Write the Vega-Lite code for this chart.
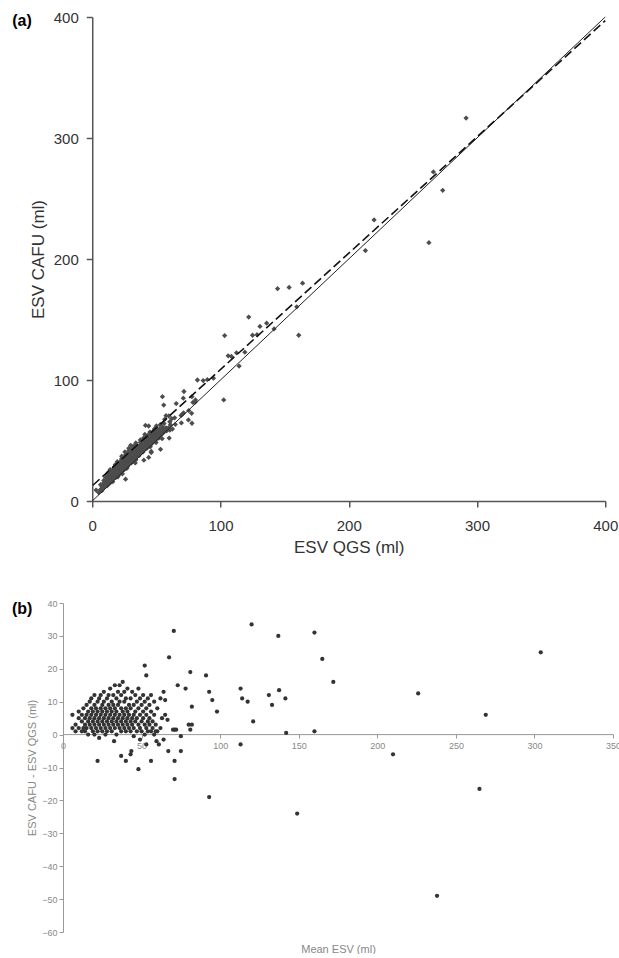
{
"$schema": "https://vega.github.io/schema/vega-lite/v6.json",
"background": "white",
"padding": {"left": 12, "top": 10, "right": 0, "bottom": 0},
"spacing": 44,
"center": true,
"config": {"view": {"stroke": null}, "font": "Liberation Sans"},
"datasets": {
"pts": [
{"q":103.25,"c":136.75,"m":120,"d":33.5},{"q":122,"c":152,"m":137,"d":30},{"q":144.5,"c":175.5,"m":160,"d":31},{"q":153.5,"c":176.5,"m":165,"d":23},{"q":164,"c":180,"m":172,"d":16},
{"q":82,"c":100,"m":91,"d":18},{"q":86.5,"c":99.5,"m":93,"d":13},{"q":89.75,"c":100.25,"m":95,"d":10.5},{"q":94.5,"c":101.5,"m":98,"d":7},{"q":106,"c":120,"m":113,"d":14},
{"q":108.5,"c":119.5,"m":114,"d":11},{"q":112.5,"c":122.5,"m":117.5,"d":10},{"q":119,"c":123,"m":121,"d":4},{"q":125,"c":137,"m":131,"d":12},{"q":128.5,"c":137.5,"m":133,"d":9},
{"q":130.75,"c":144.25,"m":137.5,"d":13.5},{"q":136,"c":147,"m":141.5,"d":11},{"q":141.75,"c":142.25,"m":142,"d":0.5},{"q":159.5,"c":160.5,"m":160,"d":1},{"q":219.75,"c":232.25,"m":226,"d":12.5},
{"q":266,"c":272,"m":269,"d":6},{"q":291.5,"c":316.5,"m":304,"d":25},{"q":26,"c":18,"m":22,"d":-8},{"q":40.25,"c":33.75,"m":37,"d":-6.5},{"q":44,"c":36,"m":40,"d":-8},
{"q":46,"c":40,"m":43,"d":-6},{"q":46,"c":41,"m":43.5,"d":-5},{"q":53.25,"c":42.75,"m":48,"d":-10.5},{"q":60,"c":52,"m":56,"d":-8},{"q":69.5,"c":64.5,"m":67,"d":-5},
{"q":75,"c":67,"m":71,"d":-8},{"q":77.75,"c":64.25,"m":71,"d":-13.5},{"q":77.5,"c":72.5,"m":75,"d":-5},{"q":102.5,"c":83.5,"m":93,"d":-19},{"q":161,"c":137,"m":149,"d":-24},
{"q":213,"c":207,"m":210,"d":-6},{"q":262.5,"c":213.5,"m":238,"d":-49},{"q":273.25,"c":256.75,"m":265,"d":-16.5},{"q":54.75,"c":86.25,"m":70.5,"d":31.5},{"q":55.75,"c":79.25,"m":67.5,"d":23.5},
{"q":41.5,"c":62.5,"m":52,"d":21},{"q":44,"c":62,"m":53,"d":18},{"q":65.5,"c":80.5,"m":73,"d":15},{"q":71.5,"c":90.5,"m":81,"d":19},{"q":71,"c":85,"m":78,"d":14},
{"q":77.75,"c":86.25,"m":82,"d":8.5},{"q":59.75,"c":70.25,"m":65,"d":10.5},{"q":57.5,"c":70.5,"m":64,"d":13},{"q":62,"c":68,"m":65,"d":6},{"q":64.25,"c":68.75,"m":66.5,"d":4.5},
{"q":69.25,"c":70.75,"m":70,"d":1.5},{"q":70.25,"c":71.75,"m":71,"d":1.5},{"q":71.25,"c":72.75,"m":72,"d":1.5},{"q":78.5,"c":81.5,"m":80,"d":3},{"q":80.5,"c":83.5,"m":82,"d":3},
{"q":80.25,"c":81.75,"m":81,"d":1.5},{"q":75.25,"c":74.75,"m":75,"d":-0.5},{"q":114.5,"c":111.5,"m":113,"d":-3},{"q":33.5,"c":31.5,"m":32.5,"d":-2},{"q":45.25,"c":44.75,"m":45,"d":-0.5},
{"q":49.75,"c":48.25,"m":49,"d":-1.5},{"q":54.5,"c":51.5,"m":53,"d":-3},{"q":60.5,"c":58.5,"m":59.5,"d":-2},{"q":62.5,"c":59.5,"m":61,"d":-3},{"q":64.75,"c":63.25,"m":64,"d":-1.5},
{"q":5,"c":7,"m":6,"d":2},{"q":3,"c":9,"m":6,"d":6},{"q":6.5,"c":9.5,"m":8,"d":3},{"q":7.5,"c":8.5,"m":8,"d":1},
{"q":9,"c":11,"m":10,"d":2},{"q":7.5,"c":12.5,"m":10,"d":5},{"q":6.5,"c":13.5,"m":10,"d":7},
{"q":11.5,"c":12.5,"m":12,"d":1},{"q":10,"c":14,"m":12,"d":4},{"q":9,"c":15,"m":12,"d":6},
{"q":12,"c":14,"m":13,"d":2},{"q":9,"c":17,"m":13,"d":8},
{"q":12.5,"c":15.5,"m":14,"d":3},{"q":11.5,"c":16.5,"m":14,"d":5},{"q":13.5,"c":14.5,"m":14,"d":1},
{"q":12,"c":18,"m":15,"d":6},{"q":10.5,"c":19.5,"m":15,"d":9},{"q":14,"c":16,"m":15,"d":2},
{"q":14,"c":18,"m":16,"d":4},{"q":12.5,"c":19.5,"m":16,"d":7},{"q":16,"c":16,"m":16,"d":0},
{"q":15.5,"c":18.5,"m":17,"d":3},{"q":12,"c":22,"m":17,"d":10},{"q":14.5,"c":19.5,"m":17,"d":5},
{"q":17,"c":19,"m":18,"d":2},{"q":15,"c":21,"m":18,"d":6},{"q":14,"c":22,"m":18,"d":8},{"q":12.5,"c":23.5,"m":18,"d":11},
{"q":17,"c":21,"m":19,"d":4},{"q":18.5,"c":19.5,"m":19,"d":1},{"q":15.5,"c":22.5,"m":19,"d":7},
{"q":18.5,"c":21.5,"m":20,"d":3},{"q":17.5,"c":22.5,"m":20,"d":5},{"q":15.5,"c":24.5,"m":20,"d":9},{"q":14,"c":26,"m":20,"d":12},{"q":20,"c":20,"m":20,"d":0},
{"q":18,"c":24,"m":21,"d":6},{"q":20,"c":22,"m":21,"d":2},{"q":17,"c":25,"m":21,"d":8},
{"q":20,"c":24,"m":22,"d":4},{"q":17,"c":27,"m":22,"d":10},{"q":21.5,"c":22.5,"m":22,"d":1},{"q":18.5,"c":25.5,"m":22,"d":7},
{"q":21.5,"c":24.5,"m":23,"d":3},{"q":20.5,"c":25.5,"m":23,"d":5},{"q":17.5,"c":28.5,"m":23,"d":11},{"q":23.5,"c":22.5,"m":23,"d":-1},
{"q":21,"c":27,"m":24,"d":6},{"q":20,"c":28,"m":24,"d":8},{"q":23,"c":25,"m":24,"d":2},{"q":18,"c":30,"m":24,"d":12},
{"q":23,"c":27,"m":25,"d":4},{"q":20.5,"c":29.5,"m":25,"d":9},{"q":24.5,"c":25.5,"m":25,"d":1},{"q":21.5,"c":28.5,"m":25,"d":7},
{"q":24.5,"c":27.5,"m":26,"d":3},{"q":23.5,"c":28.5,"m":26,"d":5},{"q":21,"c":31,"m":26,"d":10},{"q":19.5,"c":32.5,"m":26,"d":13},
{"q":24,"c":30,"m":27,"d":6},{"q":26,"c":28,"m":27,"d":2},{"q":23,"c":31,"m":27,"d":8},{"q":27,"c":27,"m":27,"d":0},
{"q":26,"c":30,"m":28,"d":4},{"q":24.5,"c":31.5,"m":28,"d":7},{"q":22.5,"c":33.5,"m":28,"d":11},{"q":27.5,"c":28.5,"m":28,"d":1},
{"q":26.5,"c":31.5,"m":29,"d":5},{"q":24.5,"c":33.5,"m":29,"d":9},{"q":27.5,"c":30.5,"m":29,"d":3},{"q":23,"c":35,"m":29,"d":12},
{"q":27,"c":33,"m":30,"d":6},{"q":29,"c":31,"m":30,"d":2},{"q":26,"c":34,"m":30,"d":8},{"q":23,"c":37,"m":30,"d":14},
{"q":29,"c":33,"m":31,"d":4},{"q":26,"c":36,"m":31,"d":10},{"q":30.5,"c":31.5,"m":31,"d":1},{"q":27.5,"c":34.5,"m":31,"d":7},
{"q":30.5,"c":33.5,"m":32,"d":3},{"q":29.5,"c":34.5,"m":32,"d":5},{"q":27.5,"c":36.5,"m":32,"d":9},{"q":26,"c":38,"m":32,"d":12},
{"q":30,"c":36,"m":33,"d":6},{"q":29,"c":37,"m":33,"d":8},{"q":32,"c":34,"m":33,"d":2},{"q":25.5,"c":40.5,"m":33,"d":15},
{"q":32,"c":36,"m":34,"d":4},{"q":28.5,"c":39.5,"m":34,"d":11},{"q":30.5,"c":37.5,"m":34,"d":7},{"q":34,"c":34,"m":34,"d":0},
{"q":32.5,"c":37.5,"m":35,"d":5},{"q":30.5,"c":39.5,"m":35,"d":9},{"q":33.5,"c":36.5,"m":35,"d":3},{"q":28.5,"c":41.5,"m":35,"d":13},
{"q":33,"c":39,"m":36,"d":6},{"q":35,"c":37,"m":36,"d":2},{"q":31,"c":41,"m":36,"d":10},{"q":28.5,"c":43.5,"m":36,"d":15},
{"q":35,"c":39,"m":37,"d":4},{"q":33,"c":41,"m":37,"d":8},{"q":31,"c":43,"m":37,"d":12},{"q":36.5,"c":37.5,"m":37,"d":1},
{"q":35.5,"c":40.5,"m":38,"d":5},{"q":34.5,"c":41.5,"m":38,"d":7},{"q":30,"c":46,"m":38,"d":16},{"q":36.5,"c":39.5,"m":38,"d":3},
{"q":36,"c":42,"m":39,"d":6},{"q":34,"c":44,"m":39,"d":10},{"q":38,"c":40,"m":39,"d":2},{"q":32.5,"c":45.5,"m":39,"d":13},
{"q":38,"c":42,"m":40,"d":4},{"q":36,"c":44,"m":40,"d":8},{"q":39.5,"c":40.5,"m":40,"d":1},{"q":34.5,"c":45.5,"m":40,"d":11},
{"q":38.5,"c":43.5,"m":41,"d":5},{"q":37.5,"c":44.5,"m":41,"d":7},{"q":34,"c":48,"m":41,"d":14},{"q":39.5,"c":42.5,"m":41,"d":3},
{"q":39,"c":45,"m":42,"d":6},{"q":37.5,"c":46.5,"m":42,"d":9},{"q":41,"c":43,"m":42,"d":2},
{"q":41,"c":45,"m":43,"d":4},{"q":37.5,"c":48.5,"m":43,"d":11},{"q":42.5,"c":43.5,"m":43,"d":1},{"q":39,"c":47,"m":43,"d":8},
{"q":41.5,"c":46.5,"m":44,"d":5},{"q":42.5,"c":45.5,"m":44,"d":3},{"q":37.5,"c":50.5,"m":44,"d":13},
{"q":42,"c":48,"m":45,"d":6},{"q":40.5,"c":49.5,"m":45,"d":9},{"q":44,"c":46,"m":45,"d":2},
{"q":44,"c":48,"m":46,"d":4},{"q":42.5,"c":49.5,"m":46,"d":7},{"q":40,"c":52,"m":46,"d":12},
{"q":44.5,"c":49.5,"m":47,"d":5},{"q":46.5,"c":47.5,"m":47,"d":1},{"q":42,"c":52,"m":47,"d":10},
{"q":46.5,"c":49.5,"m":48,"d":3},{"q":44,"c":52,"m":48,"d":8},{"q":41,"c":55,"m":48,"d":14},
{"q":46,"c":52,"m":49,"d":6},{"q":48,"c":50,"m":49,"d":2},{"q":43.5,"c":54.5,"m":49,"d":11},
{"q":48,"c":52,"m":50,"d":4},{"q":45.5,"c":54.5,"m":50,"d":9},{"q":49.5,"c":50.5,"m":50,"d":1},
{"q":48.5,"c":53.5,"m":51,"d":5},{"q":47.5,"c":54.5,"m":51,"d":7},{"q":45,"c":57,"m":51,"d":12},
{"q":50.5,"c":53.5,"m":52,"d":3},{"q":47,"c":57,"m":52,"d":10},{"q":52,"c":52,"m":52,"d":0},
{"q":50,"c":56,"m":53,"d":6},{"q":52,"c":54,"m":53,"d":2},{"q":49,"c":57,"m":53,"d":8},
{"q":52,"c":56,"m":54,"d":4},{"q":48.5,"c":59.5,"m":54,"d":11},{"q":53.5,"c":54.5,"m":54,"d":1},
{"q":52.5,"c":57.5,"m":55,"d":5},{"q":53.5,"c":56.5,"m":55,"d":3},{"q":50.5,"c":59.5,"m":55,"d":9},
{"q":52.5,"c":59.5,"m":56,"d":7},{"q":55.5,"c":56.5,"m":56,"d":1},{"q":50,"c":62,"m":56,"d":12},
{"q":55,"c":59,"m":57,"d":4},{"q":56,"c":58,"m":57,"d":2},
{"q":55,"c":61,"m":58,"d":6},{"q":58,"c":58,"m":58,"d":0},{"q":53,"c":63,"m":58,"d":10},
{"q":57.5,"c":60.5,"m":59,"d":3},{"q":58.5,"c":59.5,"m":59,"d":1},
{"q":56,"c":64,"m":60,"d":8},{"q":59.5,"c":60.5,"m":60,"d":1},
{"q":61,"c":63,"m":62,"d":2},{"q":56.5,"c":67.5,"m":62,"d":11},{"q":60.5,"c":65.5,"m":63,"d":5}
]
},
"vconcat": [
{
"width": 513,
"height": 484,
"title": {"text": "(a)", "anchor": "start", "frame": "group", "fontSize": 16, "fontWeight": "bold", "color": "#000", "dx": -80, "dy": 32, "offset": 0, "baseline": "alphabetic"},
"layer": [
{
"data": {"name": "pts"},
"mark": {"type": "point", "shape": "diamond", "filled": true, "size": 28, "color": "#4d4d4d", "opacity": 1},
"encoding": {
"x": {"field": "q", "type": "quantitative", "scale": {"domain": [0, 400], "nice": false},
"axis": {"title": "ESV QGS (ml)", "values": [0, 100, 200, 300, 400], "grid": false, "domainColor": "#555", "domainWidth": 1.5, "tickColor": "#555", "tickWidth": 1.5, "tickSize": 6, "labelFontSize": 15, "labelColor": "#333", "labelPadding": 11, "labelFlush": false, "labelOverlap": false, "titleFontSize": 17, "titleFontWeight": "normal", "titleColor": "#333", "titlePadding": 6}},
"y": {"field": "c", "type": "quantitative", "scale": {"domain": [0, 400], "nice": false},
"axis": {"title": "ESV CAFU (ml)", "values": [0, 100, 200, 300, 400], "grid": false, "domainColor": "#555", "domainWidth": 1.5, "tickColor": "#555", "tickWidth": 1.5, "tickSize": 6, "labelFontSize": 15, "labelColor": "#333", "labelPadding": 8, "labelFlush": false, "labelOverlap": false, "titleFontSize": 17, "titleFontWeight": "normal", "titleColor": "#333", "titlePadding": 6}}
}
},
{
"data": {"values": [{"q": 0, "c": 0}, {"q": 400, "c": 400}]},
"mark": {"type": "line", "color": "#222", "strokeWidth": 1},
"encoding": {"x": {"field": "q", "type": "quantitative"}, "y": {"field": "c", "type": "quantitative"}}
},
{
"data": {"values": [{"q": 0.5, "c": 13}, {"q": 400, "c": 397}]},
"mark": {"type": "line", "color": "#111", "strokeWidth": 1.6, "strokeDash": [9, 4]},
"encoding": {"x": {"field": "q", "type": "quantitative"}, "y": {"field": "c", "type": "quantitative"}}
}
]
},
{
"width": 584,
"height": 329,
"title": {"text": "(b)", "anchor": "start", "frame": "group", "fontSize": 16, "fontWeight": "bold", "color": "#000", "dx": -51, "dy": 31, "offset": 0, "baseline": "alphabetic"},
"layer": [
{
"data": {"values": [{"m": 0, "m2": 350, "d": 0}]},
"mark": {"type": "rule", "color": "#999", "strokeWidth": 1},
"encoding": {
"x": {"field": "m", "type": "quantitative", "scale": {"domain": [0, 371.6], "nice": false},
"axis": {"title": "Mean ESV (ml)", "values": [0, 50, 100, 150, 200, 250, 300, 350], "offset": -198, "domain": false, "grid": false, "tickColor": "#999", "tickSize": 4, "labelFontSize": 9, "labelColor": "#888", "labelPadding": 3, "labelFlush": false, "labelOverlap": false, "titleFontSize": 11, "titleFontWeight": "normal", "titleColor": "#888", "titleX": 275, "titleY": 215, "titleBaseline": "middle"}},
"x2": {"field": "m2"},
"y": {"field": "d", "type": "quantitative", "scale": {"domain": [-60, 40], "nice": false},
"axis": {"title": "ESV CAFU - ESV QGS (ml)", "values": [-60, -50, -40, -30, -20, -10, 0, 10, 20, 30, 40], "grid": false, "domainColor": "#999", "domainWidth": 1, "tickColor": "#999", "tickSize": 4, "labelFontSize": 9, "labelColor": "#888", "labelPadding": 2, "labelFlush": false, "labelOverlap": false, "titleFontSize": 11, "titleFontWeight": "normal", "titleColor": "#888", "titlePadding": 4}}
}
},
{
"data": {"name": "pts"},
"mark": {"type": "circle", "size": 18, "color": "#333", "opacity": 1},
"encoding": {
"x": {"field": "m", "type": "quantitative", "scale": {"domain": [0, 371.6], "nice": false},
"axis": {"title": "Mean ESV (ml)", "values": [0, 50, 100, 150, 200, 250, 300, 350], "offset": -198, "domain": false, "grid": false, "tickColor": "#999", "tickSize": 4, "labelFontSize": 9, "labelColor": "#888", "labelPadding": 3, "labelFlush": false, "labelOverlap": false, "titleFontSize": 11, "titleFontWeight": "normal", "titleColor": "#888", "titleX": 275, "titleY": 215, "titleBaseline": "middle"}},
"y": {"field": "d", "type": "quantitative", "scale": {"domain": [-60, 40], "nice": false},
"axis": {"title": "ESV CAFU - ESV QGS (ml)", "values": [-60, -50, -40, -30, -20, -10, 0, 10, 20, 30, 40], "grid": false, "domainColor": "#999", "domainWidth": 1, "tickColor": "#999", "tickSize": 4, "labelFontSize": 9, "labelColor": "#888", "labelPadding": 2, "labelFlush": false, "labelOverlap": false, "titleFontSize": 11, "titleFontWeight": "normal", "titleColor": "#888", "titlePadding": 4}}
}
}
]
}
]
}
